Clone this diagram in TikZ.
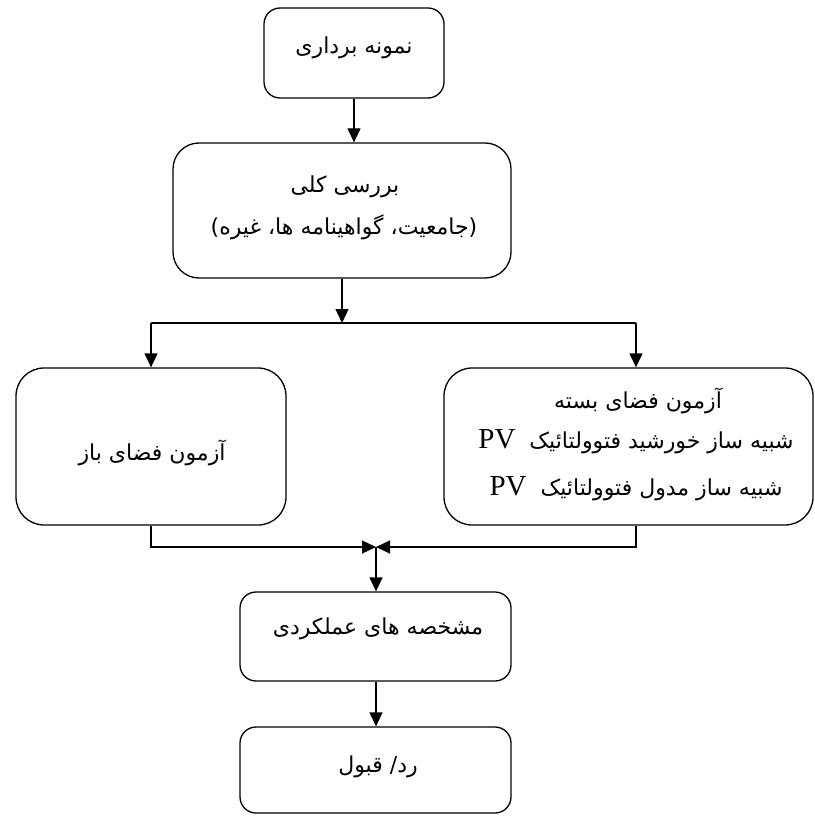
\documentclass[tikz,border=0pt]{standalone}
\usepackage{fontspec}
\setmainfont{Liberation Serif}
\newfontfamily\fa[Script=Arabic]{DejaVu Sans}
\newfontfamily\latf{Liberation Serif}
\TeXXeTstate=1
\usetikzlibrary{arrows.meta}
\tikzset{
  box/.style={draw, line width=1.3pt, rounded corners=#1, inner sep=0pt},
  box/.default=16pt,
  txt/.style={inner sep=0pt, font=\fa\fontsize{22}{26}\selectfont},
  conn/.style={line width=1.3pt},
  arr/.style={conn, -{Triangle[length=14pt,width=13pt]}},
}
\newcommand{\pvtext}{\beginL{\latf\fontsize{29}{30}\selectfont PV}\endL}
\begin{document}
\begin{tikzpicture}[x=1pt,y=-1pt]
\useasboundingbox (0,0) rectangle (814,818);
% boxes
\node[box=16pt, minimum width=180pt, minimum height=90pt] (b1) at (354,53) {};
\node[box=26pt, minimum width=338pt, minimum height=135pt] (b2) at (342,210.5) {};
\node[box=28pt, minimum width=270pt, minimum height=157pt] (bl) at (151,446.5) {};
\node[box=28pt, minimum width=369pt, minimum height=157pt] (br) at (628.5,446.5) {};
\node[box=16pt, minimum width=271pt, minimum height=89pt] (b4) at (375.5,636.5) {};
\node[box=16pt, minimum width=271pt, minimum height=86pt] (b5) at (375.5,770) {};
% texts
\node[txt] (t1) at (354,48) {\beginR نمونه برداری\endR};
\node[txt] (t2a) at (345,187) {\beginR بررسی کلی\endR};
\node[txt] (t2b) at (344,227) {)\beginR جامعیت، گواهینامه ها، غیره\endR(};
\node[txt] (tl) at (152,453) {\beginR آزمون فضای باز\endR};
\node[txt] (tr1) at (638,401) {\beginR آزمون فضای بسته\endR};
\node[txt] (tr2) at (636,442) {\beginR شبیه ساز خورشید فتوولتائیک\ \ \pvtext\endR};
\node[txt] (tr3) at (636,489) {\beginR شبیه ساز مدول فتوولتائیک\ \ \pvtext\endR};
\node[txt] (t4) at (378,629) {\beginR مشخصه های عملکردی\endR};
\node[txt] (t5) at (378,767) {\beginR رد/ قبول\endR};
% connector points
\coordinate (split) at (342,323);
\coordinate (sl) at (151,323);
\coordinate (sr) at (636,323);
\coordinate (m) at (376,547);
% connectors
\draw[arr] (b1.south) -- (b1.south |- b2.north);
\draw[arr] (b2.south) -- (split);
\draw[conn] (sl) -- (sr);
\draw[arr] (sl) -- (sl |- bl.north);
\draw[arr] (sr) -- (sr |- br.north);
\draw[arr] (bl.south) |- (m);
\draw[arr] (br.south -| sr) |- (m);
\draw[arr] (m) -- (m |- b4.north);
\draw[arr] (b4.south -| m) -- (m |- b5.north);
\end{tikzpicture}
\end{document}
